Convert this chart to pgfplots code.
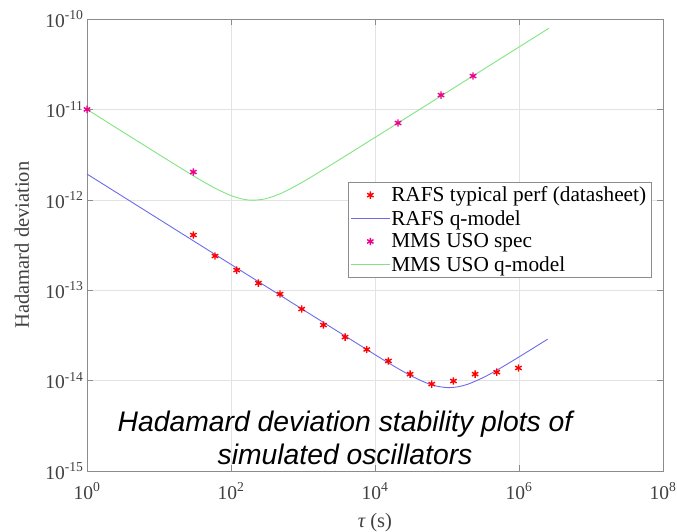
\documentclass[border=0pt]{standalone}
\usepackage{fontspec}
\setmainfont{Liberation Serif}
\newfontfamily\arialfont{Liberation Sans}
\usepackage{pgfplots}
\pgfplotsset{compat=1.18}
\definecolor{rafsline}{rgb}{0.42,0.42,0.92}
\definecolor{mmsline}{rgb}{0.50,0.90,0.50}
\definecolor{axgray}{gray}{0.55}
\begin{document}
\begin{tikzpicture}
\useasboundingbox (-87pt,-61pt) rectangle (590pt,471pt);
\begin{axis}[
  at={(0,0)}, anchor=south west, scale only axis,
  width=576pt, height=452pt,
  xmode=log, ymode=log, log basis x=10, log basis y=10,
  xmin=1, xmax=1e8, ymin=1e-15, ymax=1e-10,
  xtick={1,1e2,1e4,1e6,1e8},
  ytick={1e-15,1e-14,1e-13,1e-12,1e-11,1e-10},
  xminorticks=false,
  grid=both,
  major grid style={gray!22},
  minor grid style={gray!10},
  xtick pos=both, ytick pos=both,
  tick align=inside,
  axis line style={axgray},
  every tick/.style={axgray},
  major tick length=6pt, minor tick length=3pt,
  xticklabel={\pgfmathtruncatemacro{\e}{round(\tick)}10\textsuperscript{\e}},
  yticklabel={\pgfmathtruncatemacro{\e}{round(\tick)}10\textsuperscript{\e}},
  ticklabel style={font=\fontsize{19.5}{22}\selectfont, text=black!75},
  xticklabel style={yshift=-8pt},
  xlabel={{\itshape τ} (s)},
  ylabel={Hadamard deviation},
  label style={font=\fontsize{20.5}{24}\selectfont, text=black!75},
  xlabel style={at={(axis description cs:0.5,-0.113)}, anchor=center},
  ylabel style={at={(axis description cs:-0.113,0.5)}, anchor=center},
  legend style={at={(rel axis cs:0.979,0.639)}, anchor=north east,
    draw=axgray, font=\fontsize{21.3}{24}\selectfont, inner sep=3pt,
    row sep=4pt, nodes={inner sep=1.5pt}},
  legend cell align=left,
  legend image code/.code={\draw[mark repeat=2,mark phase=2,#1] plot coordinates {(0pt,0pt) (19pt,0pt) (38pt,0pt)};},
]
\addplot[only marks, mark=asterisk, mark size=3.7pt, red, line width=1.4pt] coordinates {
(30,4.08e-13) (60,2.39e-13) (120,1.67e-13) (240,1.20e-13) (480,9.08e-14)
(960,6.19e-14) (1920,4.12e-14) (3840,3.03e-14) (7680,2.21e-14) (15360,1.65e-14)
(30720,1.18e-14) (61440,9.16e-15) (122880,9.9e-15) (245760,1.18e-14)
(491520,1.24e-14) (983040,1.38e-14)
};
\addlegendentry{RAFS typical perf (datasheet)}
\addplot[rafsline, line width=0.9pt, smooth] coordinates {
(1,1.929e-12) (10,6.10e-13) (100,1.929e-13) (1000,6.10e-14) (10000,1.937e-14)
(20000,1.388e-14) (31620,1.132e-14) (50000,9.53e-15) (70000,8.73e-15)
(100000,8.38e-15) (140000,8.53e-15) (200000,9.20e-15) (316200,1.078e-14)
(500000,1.313e-14) (1000000,1.827e-14) (2000000,2.573e-14) (2500000,2.875e-14)
};
\addlegendentry{RAFS q-model}
\addplot[only marks, mark=asterisk, mark size=3.7pt, magenta, line width=1.4pt] coordinates {
(1,1.0e-11) (30,2.03e-12) (20900,7.08e-12) (82600,1.44e-11) (230000,2.34e-11)
};
\addlegendentry{MMS USO spec}
\addplot[mmsline, line width=0.9pt, smooth] coordinates {
(1,1.0e-11) (3.162,5.62e-12) (10,3.166e-12) (31.62,1.799e-12) (60,1.346e-12)
(100,1.114e-12) (150,1.013e-12) (200,9.90e-13) (300,1.026e-12) (500,1.183e-12)
(1000,1.581e-12) (3162,2.76e-12) (10000,4.90e-12) (100000,1.549e-11)
(1000000,4.90e-11) (2600000,7.90e-11)
};
\addlegendentry{MMS USO q-model}
\node[font=\arialfont\itshape\fontsize{28.3}{33}\selectfont, align=center, text=black]
  at (rel axis cs:0.448,0.073) {Hadamard deviation stability plots of\\simulated oscillators};
\end{axis}
\end{tikzpicture}
\end{document}
